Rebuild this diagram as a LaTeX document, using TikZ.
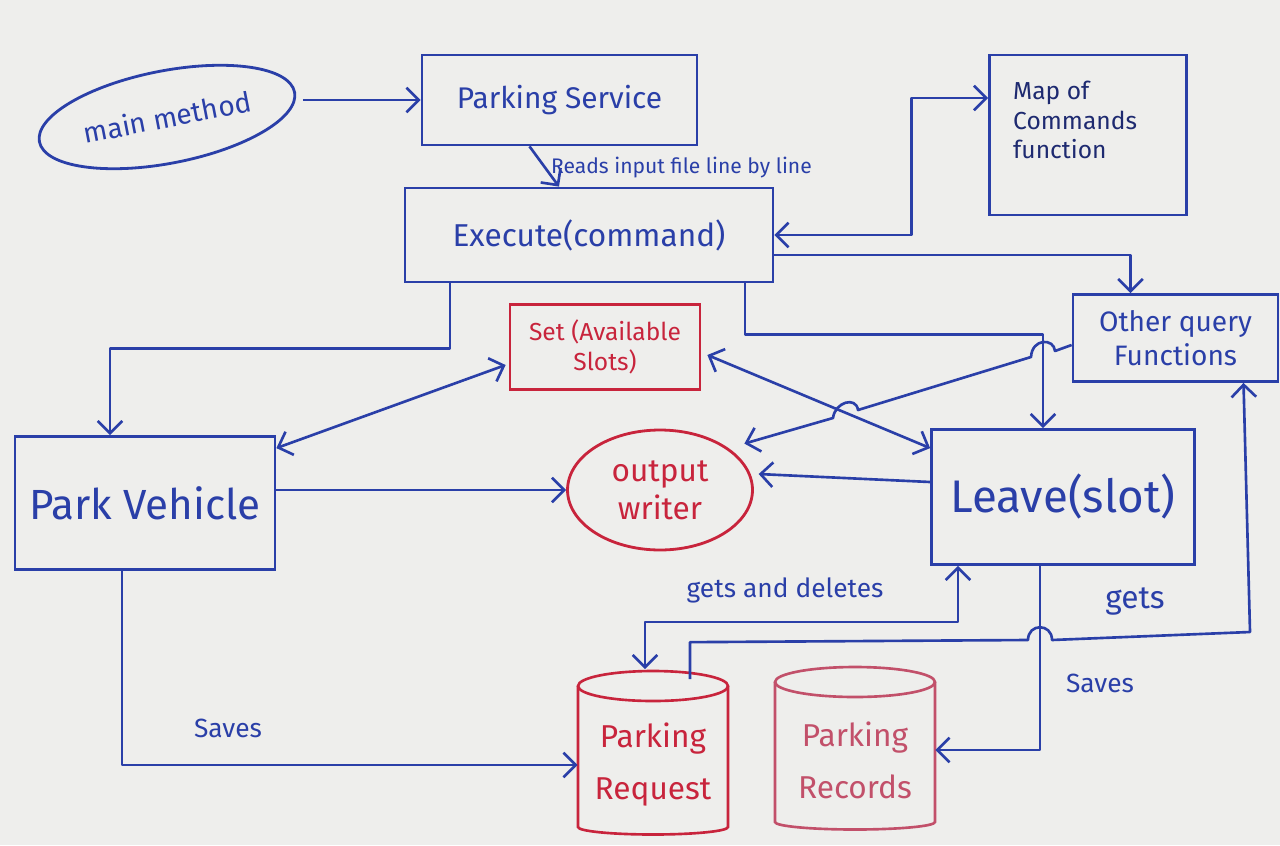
\documentclass[tikz,border=0pt]{standalone}
\usepackage{fontspec}
\setmainfont{Fira Sans}
\usetikzlibrary{arrows.meta,calc,shapes.geometric}
\definecolor{inkblue}{HTML}{2A3FA8}
\definecolor{inknavy}{HTML}{1E2A70}
\definecolor{inkred}{HTML}{C8243C}
\definecolor{inkpink}{HTML}{C2506A}
\definecolor{board}{HTML}{EEEEEC}
\newcommand\fsz[1]{\fontsize{#1}{\fpeval{1.2*#1}}\selectfont}
\tikzset{fs/.style={font=\fsz{#1}}}
\begin{document}
\begin{tikzpicture}[x=0.02cm,y=-0.02cm,
  box/.style={draw=inkblue,line width=1.6pt,rectangle,text=inkblue,align=center,inner sep=2pt},
  redbox/.style={draw=inkred,line width=1.6pt,rectangle,text=inkred,align=center,inner sep=2pt},
  tip/.style={-{Straight Barb[length=7pt,width=14pt]}},
  tips/.style={{Straight Barb[length=7pt,width=14pt]}-{Straight Barb[length=7pt,width=14pt]}},
  conn/.style={draw=inkblue,line width=1.5pt,line join=round},
  lbl/.style={text=inkblue,inner sep=1pt}
]
\fill[board] (0,0) rectangle (1280,845);
\useasboundingbox (0,0) rectangle (1280,845);

% nodes
\node[ellipse,draw=inkblue,line width=1.6pt,text=inkblue,minimum width=5.2cm,minimum height=1.85cm,rotate=11,fs=16] (main) at (167,117) {main method};
\node[box,minimum width=5.5cm,minimum height=1.8cm,fs=17] (ps) at (559.5,100) {Parking Service};
\node[box,minimum width=7.36cm,minimum height=1.88cm,fs=18] (exec) at (589,235) {Execute(command)};
\node[box,minimum width=3.94cm,minimum height=3.2cm] (map) at (1088,135) {};
\node[anchor=north west,text=inknavy,align=left,fs=14] (maptext) at (1007,75) {Map of\\Commands\\function};
\node[box,minimum width=4.1cm,minimum height=1.74cm,fs=16] (other) at (1175.5,338) {Other query\\Functions};
\node[redbox,minimum width=3.8cm,minimum height=1.7cm,fs=14] (set) at (605,347) {Set (Available\\Slots)};
\node[box,minimum width=5.2cm,minimum height=2.66cm,fs=24] (park) at (145,503) {Park Vehicle};
\node[ellipse,draw=inkred,line width=1.6pt,text=inkred,align=center,minimum width=3.7cm,minimum height=2.4cm,fs=18] (out) at (660,490) {output\\writer};
\node[box,minimum width=5.26cm,minimum height=2.7cm,fs=26] (leave) at (1063,497) {Leave(slot)};
\node[text=inkred,align=center,minimum width=3cm,minimum height=3.26cm,fs=18] (req) at (653,765) {Parking\\[8pt]Request};
\node[text=inkpink,align=center,minimum width=3.2cm,minimum height=3.24cm,fs=18] (rec) at (855,760) {Parking\\[8pt]Records};

% cylinders
\draw[inkred,line width=1.5pt] (653,686) ellipse [x radius=1.5cm,y radius=0.3cm];
\draw[inkred,line width=1.5pt] (578,686) -- (578,827)
  arc [start angle=180,end angle=360,x radius=1.5cm,y radius=0.15cm] -- (728,686);
\draw[inkpink,line width=1.5pt] (855,682) ellipse [x radius=1.6cm,y radius=0.3cm];
\draw[inkpink,line width=1.5pt] (775,682) -- (775,822)
  arc [start angle=180,end angle=360,x radius=1.6cm,y radius=0.15cm] -- (935,682);

% connectors
\draw[conn,tip,shorten <=4pt] (ps.west -| main.east) -- (ps.west);
\draw[conn,tip] ($(ps.south)+(-30,0)$) -- ($(exec.north)+(-30,0)$);
\node[lbl,anchor=west,fs=12] (readlbl) at (549,168) {Reads input file line by line};

\draw[conn,tips] (exec.east) -- ++(137,0) |- ($(map.west)+(0,-37)$);
\draw[conn,tip] ($(exec.east)+(0,20)$) -| ($(other.north)+(-45,0)$);
\draw[conn,tip] ($(exec.south)+(156,0)$) -- ++(0,51) -| ($(leave.north)+(-20,0)$);
\draw[conn,tip] ($(exec.south)+(-139,0)$) -- ++(0,65) -| ($(park.north)+(-35,0)$);

\draw[conn,tips] ($(park.north east)+(0,13)$) -- ($(set.west)+(-3,18)$);
\draw[conn,tips] ($(set.east)+(6,8)$) -- ($(leave.north west)+(0,20)$);

\draw[conn,tip] ($(other.west)+(0,7)$) -- (1055,351)
  .. controls (1054,338) and (1032,338) .. (1031,357)
  -- (858,410) .. controls (856,396) and (835,402) .. (833,418)
  -- ($(out.north east)+(18,-3)$);

\draw[conn,tip] (park.east |- out.west) -- (out.west);
\draw[conn,tip] ($(leave.west)+(0,-15)$) -- ($(out.10)+(8,0)$);

\draw[conn,tips] ($(req.north)+(-8,-14)$) -- ++(0,-47) -| ($(leave.south)+(-105,0)$);
\node[lbl,fs=15] (gdlbl) at (785,590) {gets and deletes};

\draw[conn,tip] ($(req.north)+(37,-4)$) -- ++(0,-37) -- (1028,640)
  .. controls (1028,623) and (1052,623) .. (1052,640)
  -- (1250,632) -- ($(other.south)+(68,0)$);
\node[lbl,fs=18] (getslbl) at (1135,601) {gets};

\draw[conn,tip] ($(leave.south)+(-23,0)$) |- ($(rec.east)+(0,-10)$);
\node[lbl,fs=15] (saves1) at (1100,683) {Saves};

\draw[conn,tip] ($(park.south)+(-23,0)$) |- (req.west);
\node[lbl,fs=15] (saves2) at (228,728) {Saves};
\end{tikzpicture}
\end{document}
